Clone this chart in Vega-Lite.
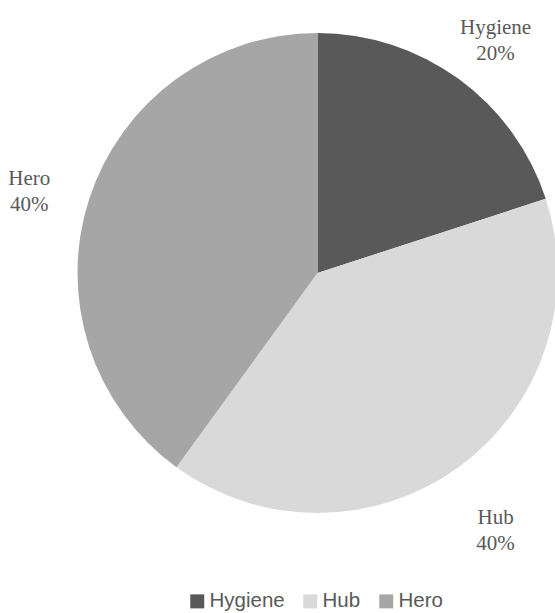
{
  "$schema": "https://vega.github.io/schema/vega-lite/v6.json",
  "width": 475,
  "height": 546,
  "autosize": {"type": "none"},
  "padding": {"left": 80, "top": 0, "right": 0, "bottom": 67},
  "background": "white",
  "data": {"values": [
    {"category": "Hygiene", "value": 20, "order": 1, "label": "Hygiene\n20%"},
    {"category": "Hub", "value": 40, "order": 2, "label": "Hub\n40%"},
    {"category": "Hero", "value": 40, "order": 3, "label": "Hero\n40%"}
  ]},
  "encoding": {
    "theta": {"field": "value", "type": "quantitative", "stack": true},
    "order": {"field": "order", "type": "quantitative"}
  },
  "layer": [
    {
      "mark": {"type": "arc", "outerRadius": 240},
      "encoding": {
        "color": {
          "field": "category", "type": "nominal",
          "scale": {"domain": ["Hygiene", "Hub", "Hero"], "range": ["#595959", "#d9d9d9", "#a6a6a6"]},
          "legend": {
            "orient": "none", "legendX": 107, "legendY": 591, "direction": "horizontal", "title": null,
            "labelFont": "Liberation Sans", "labelFontSize": 20.5,
            "labelColor": "#595959", "symbolType": "square", "symbolSize": 196,
            "symbolStrokeWidth": 0, "columnPadding": 15, "labelOffset": 2
          }
        }
      }
    },
    {
      "mark": {"type": "text", "radius": 303, "font": "Liberation Serif", "fontSize": 21, "lineHeight": 26, "lineBreak": "\n", "color": "#595959", "align": "center", "baseline": "middle"},
      "encoding": {
        "text": {"field": "label", "type": "nominal"}
      }
    }
  ]
}
